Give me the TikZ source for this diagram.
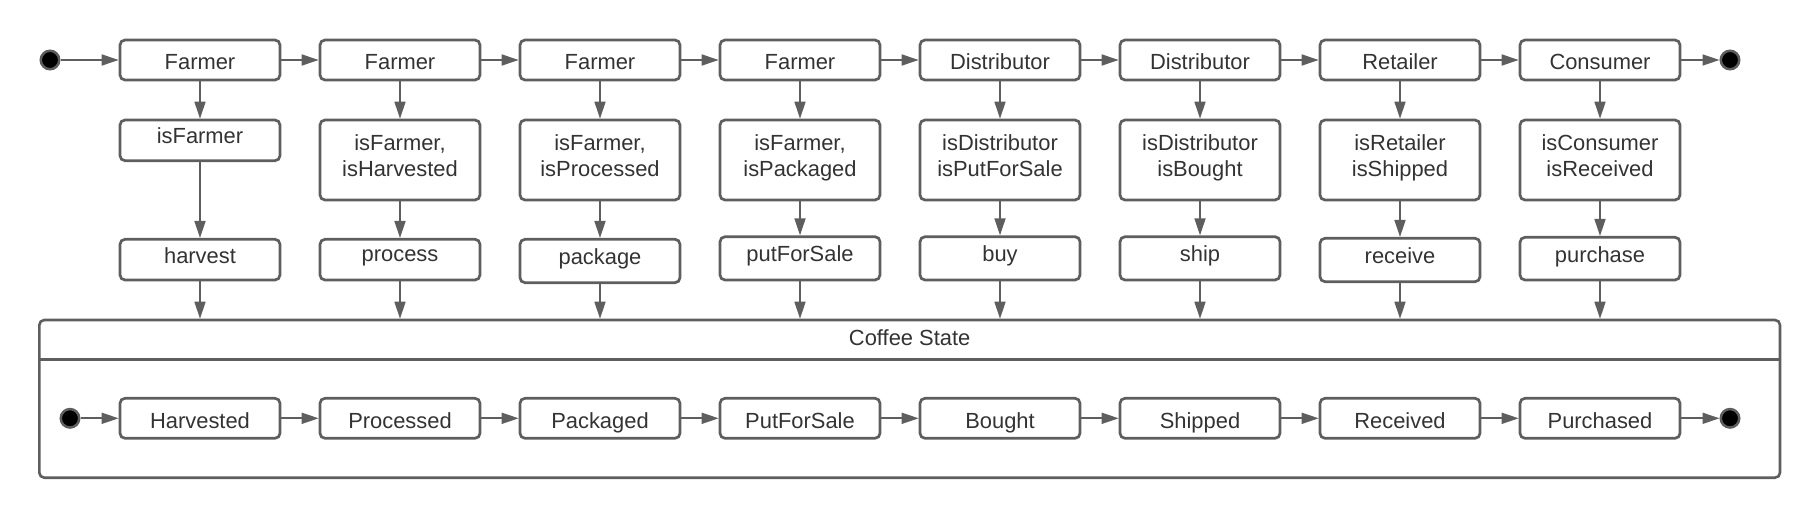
\documentclass[tikz,border=0pt]{standalone}
\usepackage{fontspec}
\setmainfont{Liberation Sans}
\usetikzlibrary{arrows.meta}
\definecolor{ln}{HTML}{5E5E5E}
\definecolor{tx}{HTML}{333333}
\begin{document}
\begin{tikzpicture}[x=0.5pt,y=-0.5pt,
  box/.style={draw=ln, line width=1.35pt, rounded corners=2.5pt, minimum width=80pt, inner sep=0pt},
  lbl/.style={inner sep=0pt, text=tx, text depth=0pt, align=center, font=\fontsize{10.95pt}{13.35pt}\selectfont},
  dot/.style={circle, fill=black, draw=ln, line width=1.25pt, minimum size=9.25pt, inner sep=0pt},
  arr/.style={draw=ln, line width=0.85pt, -{Triangle[length=8.5pt,width=5.5pt]}}]
\useasboundingbox (0,0) rectangle (1820,518);

% top row
\node[dot] (s0) at (50,60) {};
\node[dot] (e0) at (1730,60) {};
\foreach \i/\t [evaluate=\i as \x using 200*\i] in {1/Farmer,2/Farmer,3/Farmer,4/Farmer,5/Distributor,6/Distributor,7/Retailer,8/Consumer}{
  \node[box, minimum height=20pt] (a\i) at (\x,60) {};
  \node[lbl] (ta\i) at ([yshift=-1pt]a\i.center) {\t};
}

% second row
\node[box, minimum height=20.35pt] (b1) at (200,140.35) {};
\node[lbl] (tb1) at ([yshift=2.25pt]b1.center) {isFarmer};
\foreach \i/\t [evaluate=\i as \x using 200*\i] in {2/{isFarmer,\\isHarvested},3/{isFarmer,\\isProcessed},4/{isFarmer,\\isPackaged},5/{isDistributor\\isPutForSale},6/{isDistributor\\isBought},7/{isRetailer\\isShipped},8/{isConsumer\\isReceived}}{
  \node[box, minimum height=40pt] (b\i) at (\x,160) {};
  \node[lbl] (tb\i) at ([yshift=2.25pt]b\i.center) {\t};
}

% third row
\foreach \i/\y/\h/\t [evaluate=\i as \x using 200*\i] in {1/259.65/20.35/harvest,2/259.65/20.35/process,3/261/21.7/package,4/258.35/21.65/putForSale,5/258.35/21.65/buy,6/258.35/21.65/ship,7/260/21.7/receive,8/258.65/21.35/purchase}{
  \node[box, minimum height=\h pt] (c\i) at (\x,\y) {};
  \node[lbl] (tc\i) at ([yshift=2.25pt]c\i.center) {\t};
}

% composite state
\node[draw=ln, line width=1.3pt, rounded corners=2.5pt, minimum width=870.35pt, minimum height=78.85pt, inner sep=0pt] (comp) at (909.65,398.85) {};
\coordinate (hl) at (0,359.3);
\draw[ln, line width=1.3pt] (comp.west |- hl) -- (comp.east |- hl);
\node[lbl] (ct) at (909.65,337.2) {Coffee State};

% inner row
\node[dot] (s1) at (70,418.3) {};
\node[dot] (e1) at (1730,418.3) {};
\foreach \i/\t [evaluate=\i as \x using 200*\i] in {1/Harvested,2/Processed,3/Packaged,4/PutForSale,5/Bought,6/Shipped,7/Received,8/Purchased}{
  \node[box, minimum height=20pt] (d\i) at (\x,418.3) {};
  \node[lbl] (td\i) at ([yshift=-1.2pt]d\i.center) {\t};
}

% connectors
\draw[arr] (s0) -- (a1);
\draw[arr] (a8) -- (e0);
\draw[arr] (s1) -- (d1);
\draw[arr] (d8) -- (e1);
\foreach \i [evaluate=\i as \j using int(\i+1)] in {1,...,7}{
  \draw[arr] (a\i) -- (a\j);
  \draw[arr] (d\i) -- (d\j);
}
\foreach \i in {1,...,8}{
  \draw[arr] (a\i) -- (b\i);
  \draw[arr] (b\i) -- (c\i);
  \draw[arr] (c\i.south) -- (c\i.south |- comp.north);
}
\end{tikzpicture}
\end{document}
